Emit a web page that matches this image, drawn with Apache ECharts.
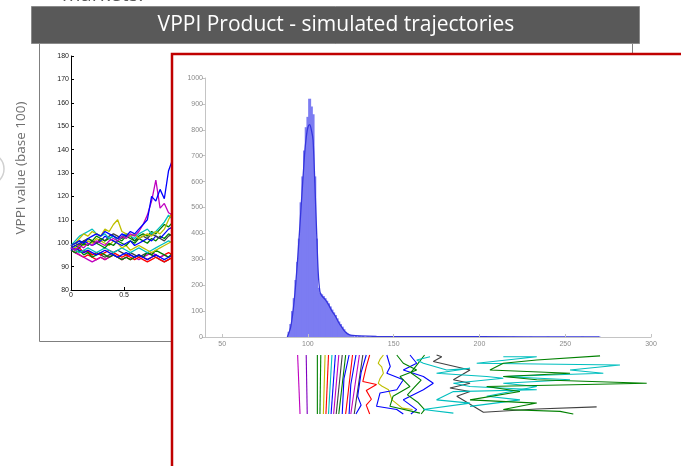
<!DOCTYPE html>
<html><head><meta charset="utf-8">
<script src="https://cdn.jsdelivr.net/npm/echarts@6/dist/echarts.min.js"></script>
<style>html,body{margin:0;padding:0;background:#fff}#c{width:681px;height:466px}</style>
</head><body><div id="c"></div>
<script>
// ---- Left panel: simulated VPPI trajectories (time in years, value base 100)
const leftTimes = [0,0.04,0.08,0.12,0.16,0.2,0.24,0.28,0.32,0.36,0.4,0.44,0.48,0.52,0.56,0.6,0.64,0.68,0.72,0.76,0.8,0.84,0.88,0.92,0.96];
const pathBlue1    = [99,100,101,100,102,103,104,103,105,104,103,102,104,103,105,104,106,108,110,120,118,123,119,131,136];
const pathMagenta1 = [98,97,99,98,100,99,101,100,99,101,102,101,103,102,104,103,105,108,112,118,127,115,117,113,112];
const pathYellow1  = [99,100,102,104,103,105,104,103,106,105,108,110,105,104,103,104,102,103,104,103,105,104,106,110,114];
const pathCyan1    = [99,101,103,104,105,106,104,103,104,102,103,101,103,104,103,102,104,105,106,104,105,107,109,112,110];
const pathGreen1   = [98,99,98,100,99,101,100,99,98,100,99,101,100,99,101,100,102,101,100,102,101,103,102,104,103];
const pathRed1     = [97,96,95,94,95,94,93,94,93,94,95,94,93,94,93,94,95,94,93,94,95,94,95,96,95];
const pathBlack1   = [98,97,96,97,96,95,96,95,94,95,96,97,96,95,96,95,94,95,96,95,94,93,92,93,94];
const pathBlue2    = [98,99,100,101,100,99,100,101,103,102,101,100,99,100,101,99,100,101,102,101,103,102,104,106,107];
const pathMagenta2 = [97,96,95,94,93,92,93,94,93,94,95,94,93,94,95,94,93,94,95,96,95,94,95,94,95];
const pathGreen2   = [99,100,101,100,102,101,103,102,101,102,103,102,101,103,102,101,103,104,103,105,104,106,108,107,109];
const pathRed2     = [98,97,98,96,97,95,96,95,96,97,96,95,94,95,94,93,94,93,92,93,94,93,92,93,94];
const pathCyan2    = [98,97,96,97,98,97,96,97,98,97,96,97,98,97,96,97,98,97,96,97,98,99,100,101,100];
const pathYellow2  = [99,98,100,99,101,100,102,101,100,99,101,100,98,99,97,98,99,98,97,96,97,98,99,100,101];
const pathBlack2   = [99,100,99,101,102,101,100,102,101,103,104,103,102,104,103,101,102,103,102,104,103,102,101,103,104];
const pathGreen3   = [97,96,97,95,96,94,95,96,95,94,95,94,93,94,93,94,95,94,96,95,97,96,95,94,96];
const pathBlue3    = [97,98,97,96,97,96,95,96,97,96,95,94,95,96,95,94,95,94,93,94,95,94,93,94,95];
const leftYTicks = [80,90,100,110,120,130,140,150,160,170,180];
const leftXTicks = [0,0.5];

// ---- Histogram of final values
const histBins   = [89,90,91,92,93,94,95,96,97,98,99,100,101,102,103,104,105,106,107,108,109,110,111,112,113,114,115,116,117,118,119,120,121,122,123,124,125,126,128,130,132,135,140,145,150,160,170,180,190,200,210,220,230,240,250,260,270];
const histCounts = [20,50,100,150,220,290,380,520,620,720,810,850,920,890,860,620,380,190,170,165,158,150,140,130,118,106,95,85,72,60,50,40,30,20,13,9,7,6,5,5,4,3,3,2,2,2,2,1,1,1,1,1,1,1,1,1,1];
const fitX = [88,90,92,94,96,98,99,100,101,102,103,104,105,106,107,108,110,112,114,116,118,120,122,124,126,130,140,160,200,270];
const fitY = [0,40,140,300,500,700,770,810,820,800,760,600,420,250,175,160,145,125,100,80,55,35,18,9,6,4,2,1.5,1,0.5];
const histXTicks = [50,100,150,200,250,300];
const histYTicks = [0,100,200,300,400,500,600,700,800,900,1000];

// ---- Bottom strip: trajectories drawn against value (x) and step (y, top = 0)
const botMagenta = [[94.0,0],[95.4,20]];
const botPurple  = [[99.0,0],[99.6,20]];
const botBand1 = [[105.5,0],[105.5,20]];
const botBand2 = [[107.5,0],[107,20]];
const botBand3 = [[110,0],[109,20]];
const botBand4 = [[112,0],[110.5,20]];
const botBand5 = [[114,0],[112,20]];
const botBand6 = [[116,0],[113.5,20]];
const botBand7 = [[118,0],[115,20]];
const botBand8 = [[120,0],[116.5,20]];
const botBand9 = [[122,0],[118,20]];
const botBand10 = [[124,0],[121,8],[120,20]];
const botBand11 = [[126,0],[122,20]];
const botBand12 = [[128,0],[125,10],[124,20]];
const botBand13 = [[130,0],[125,20]];
const botBand14 = [[132,0],[129,12],[127,20]];
const botBand15 = [[134,0],[131,6],[129,14],[131,17],[128,20]];
const botRedWiggle = [[136,0],[134,4],[132,9],[140,10],[134,12],[137,15],[134,17],[136,20]];
const botYellow = [[144,0],[142,1.5],[141,2.8],[143,4],[144,6.2],[142,8],[141,9.6],[143,10.5],[147,11.8],[149,15.2],[155,18],[161,18.5]];
const botBlue1  = [[146,0],[148,3.9],[146,6.2],[155.6,8.4],[151.8,11.8],[142,12.9],[140,17.4],[151.8,18.5],[155.6,20]];
const botBlue2  = [[159.5,0],[163.4,2.8],[155.6,5.1],[167.3,7.3],[173.1,9.6],[167.3,11.8],[155.6,15.2],[163.4,18.5],[160,20]];
const botGreen1 = [[151.8,0],[155.6,2.8],[163.4,5.1],[153.7,7.3],[159.5,10.7],[149.6,14],[147.8,17.4],[165.3,19.7]];
const botGreen2 = [[168,0],[164,3],[160,6],[166,8.5],[162,11],[158,13.5],[164,16],[168,18.5],[166,20]];
const botCyanA  = [[171.2,0.6],[163.4,1.7],[167.3,2.8],[180.9,5.1],[194.5,4.5],[175,6.2],[204.2,7.3],[213.9,7.9],[184.8,9.6],[194.5,10.7],[233.4,11.8],[184.8,12.4],[175,15.2],[194.5,16.3],[167.3,18.5],[184.8,19.7]];
const botCyanB  = [[213.9,0.6],[233.4,0.6],[198.4,2.8],[281.9,3.4],[252.8,5.1],[272.2,6.2],[213.9,7.3],[252.8,8.4],[213.9,9.6],[233.4,10.7],[204.2,14],[223.6,15.2],[194.5,17.4]];
const botGreenBig = [[270.3,0.3],[233.4,1.7],[213.9,2.8],[206.1,5.1],[252.8,6.2],[213.9,7.3],[233.4,8.4],[297.5,9.6],[204.2,10.7],[223.6,12.4],[194.5,15.2],[233.4,16.3],[213.9,18.5],[247,19.1],[254.7,20]];
const botBlack = [[175,0],[178,0.6],[173.1,2.2],[194.5,5.1],[184.8,8.4],[194.5,9.6],[182.8,11.2],[194.5,12.4],[186.8,14],[202.3,19.4],[233.4,18.3],[268.3,17.6]];

const C = {blue:'#0000ff', green:'#008000', red:'#ff0000', cyan:'#00bfbf', magenta:'#bf00bf', yellow:'#bfbf00', black:'#404040', purple:'#8000c0'};

const leftPaths = [
  [pathRed1,C.red],[pathMagenta2,C.magenta],[pathBlack1,C.black],[pathRed2,C.red],[pathGreen3,C.green],[pathBlue3,C.blue],
  [pathCyan2,C.cyan],[pathYellow2,C.yellow],[pathGreen1,C.green],[pathBlue2,C.blue],[pathBlack2,C.black],[pathGreen2,C.green],
  [pathCyan1,C.cyan],[pathYellow1,C.yellow],[pathMagenta1,C.magenta],[pathBlue1,C.blue]
];
const botPaths = [
  [botMagenta,C.magenta],[botPurple,C.purple],[botBand1,C.green],[botBand2,C.green],[botBand3,C.yellow],[botBand4,C.red],
  [botBand5,C.cyan],[botBand6,C.blue],[botBand7,C.magenta],[botBand8,C.black],[botBand9,C.green],[botBand10,C.blue],
  [botBand11,C.red],[botBand12,C.blue],[botBand13,C.magenta],[botBand14,C.black],[botBand15,C.blue],[botRedWiggle,C.red],
  [botYellow,C.yellow],[botBlue1,C.blue],[botBlue2,C.blue],[botGreen1,C.green],[botGreen2,C.green],
  [botBlack,C.black],[botCyanA,C.cyan],[botCyanB,C.cyan],[botGreenBig,C.green]
];

const series = [];
leftPaths.forEach(([vals,col])=>{
  series.push({type:'line', xAxisIndex:0, yAxisIndex:0, data: vals.map((v,i)=>[leftTimes[i],v]),
    symbol:'none', lineStyle:{color:col,width:1.3}, silent:true, clip:true, z:3});
});
series.push({type:'bar', xAxisIndex:1, yAxisIndex:1, data: histBins.map((b,i)=>[b,histCounts[i]]),
  barWidth:3, itemStyle:{color:'#7c7cf2'}, silent:true, z:10});
series.push({type:'line', xAxisIndex:1, yAxisIndex:1, data: fitX.map((x,i)=>[x,fitY[i]]),
  symbol:'none', smooth:0.3, lineStyle:{color:'#3535dd',width:1.3}, silent:true, z:11});
botPaths.forEach(([pts,col])=>{
  series.push({type:'line', xAxisIndex:2, yAxisIndex:2, data: pts,
    symbol:'none', lineStyle:{color:col,width:1.1}, silent:true, clip:false, z:10});
});

const chart = echarts.init(document.getElementById('c'), null, {renderer:'canvas'});
chart.setOption({
  animation:false,
  backgroundColor:'#ffffff',
  graphic:[
    {type:'text', left:62, top:-15, style:{text:'markets:', fill:'#595959', font:'20px "Open Sans"'}},
    {type:'circle', shape:{cx:-12, cy:169, r:16}, style:{fill:'none', stroke:'#d0d0d0', lineWidth:1.5}},
    {type:'rect', shape:{x:39.5, y:43.5, width:593, height:298}, style:{fill:'#ffffff', stroke:'#7f7f7f', lineWidth:1}},
    {type:'rect', shape:{x:31.5, y:6.5, width:608, height:37}, style:{fill:'#595959', stroke:'#8a8a8a', lineWidth:1}},
    {type:'text', x:336, y:25, style:{text:'VPPI Product - simulated trajectories', fill:'#ffffff', font:'21px "Open Sans"', align:'center', verticalAlign:'middle'}},
    {type:'text', x:21, y:168, rotation:Math.PI/2, style:{text:'VPPI value (base 100)', fill:'#6f6f6f', font:'13.5px "Open Sans"', align:'center', verticalAlign:'middle'}},
    {type:'rect', z:4, shape:{x:172, y:54, width:620, height:460}, style:{fill:'#ffffff', stroke:'#c00000', lineWidth:2.5}}
  ],
  grid:[
    {left:71, top:56, width:100, height:234},
    {left:205, top:78, width:446, height:259},
    {left:205, top:355, width:446, height:59}
  ],
  xAxis:[
    {type:'value', gridIndex:0, min:0, max:0.943, interval:0.5,
      axisLine:{lineStyle:{color:'#000',width:1}}, splitLine:{show:false},
      axisTick:{inside:true,length:3,lineStyle:{color:'#000'}},
      axisLabel:{color:'#222', fontSize:7, fontFamily:'Liberation Sans', margin:2, showMaxLabel:false,
        formatter:v=> leftXTicks.includes(v)? String(v):''}},
    {type:'value', gridIndex:1, min:40, max:300, interval:10, z:12,
      axisLine:{lineStyle:{color:'#c4c4c4',width:1}}, splitLine:{show:false},
      axisTick:{show:true, inside:true, length:3, lineStyle:{color:'#c4c4c4'}, customValues:histXTicks},
      axisLabel:{color:'#8a8a8a', fontSize:7, fontFamily:'Liberation Sans', margin:4, customValues:histXTicks,
        formatter:v=> histXTicks.includes(v)? String(v):''}},
    {type:'value', gridIndex:2, min:40, max:300, show:false}
  ],
  yAxis:[
    {type:'value', gridIndex:0, min:80, max:180, interval:10,
      axisLine:{show:true, lineStyle:{color:'#000',width:1}}, splitLine:{show:false},
      axisTick:{show:true, inside:true, length:3, lineStyle:{color:'#000'}},
      axisLabel:{color:'#222', fontSize:7, fontFamily:'Liberation Sans', margin:2,
        formatter:v=> leftYTicks.includes(v)? String(v):''}},
    {type:'value', gridIndex:1, min:0, max:1000, interval:100, z:12,
      axisLine:{show:true, lineStyle:{color:'#c4c4c4',width:1}}, splitLine:{show:false},
      axisTick:{show:true, inside:false, length:3, lineStyle:{color:'#c4c4c4'}},
      axisLabel:{color:'#8a8a8a', fontSize:7, fontFamily:'Liberation Sans', margin:2,
        formatter:v=> histYTicks.includes(v)? String(v):''}},
    {type:'value', gridIndex:2, min:0, max:20, inverse:true, show:false}
  ],
  series
});
</script></body></html>
